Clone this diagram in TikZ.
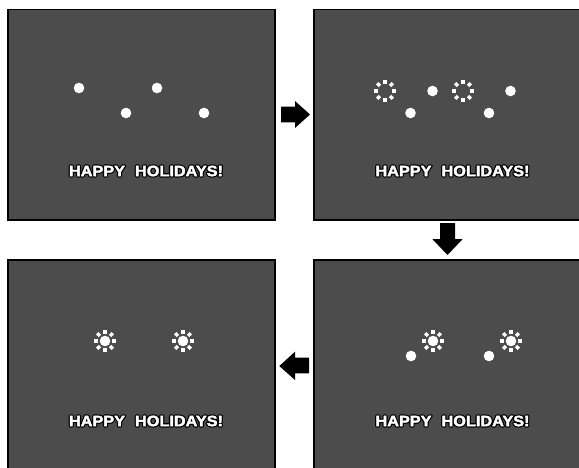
\documentclass[tikz,border=0pt]{standalone}
\usepackage{fontspec}
\setmainfont{Liberation Sans}
\usepackage{graphicx}
\definecolor{panelgray}{HTML}{4C4C4C}
\newcommand\greettext{\textbf{HAPPY\hspace{0.62em}HOLIDAYS!}}
\newcommand\outlinedtext{\resizebox{154pt}{10.5pt}{%
  \makebox[0pt][l]{\special{pdf:literal direct 0 0 0 RG 1.8 w 1 j 2 Tr}\textcolor{black}{\greettext}\special{pdf:literal direct 0 Tr}}%
  \special{pdf:literal direct 1 1 1 RG 0.25 w 1 j 2 Tr}\textcolor{white}{\greettext}\special{pdf:literal direct 0 Tr}}}
\tikzset{
  panel/.style={draw=black, line width=1.5pt, fill=panelgray},
  dot/.style={fill=white},
  blockarrow/.style={fill=black},
  greet/.style={inner sep=0pt, outer sep=0pt, text=white},
  sparkle/.pic={
    \foreach \a in {0,45,...,315}{\fill[white,rotate=\a] (7.1,-1.7) rectangle (11.1,1.7);}
  },
  sun/.pic={
    \pic {sparkle};
    \fill[white] (0,0) circle[radius=5.3];
  }
}
\begin{document}
\begin{tikzpicture}[x=1pt,y=-1pt]
\useasboundingbox (0,0) rectangle (579,467);
% panels
\draw[panel] (8,9.5) rectangle (275,220) coordinate (p1);
\draw[panel] (314,9.5) rectangle (583,220) coordinate (p2);
\draw[panel] (8,260) rectangle (275,471) coordinate (p3);
\draw[panel] (314,260) rectangle (583,471) coordinate (p4);
% panel 1
\fill[dot] (79,88) circle[radius=5.3];
\fill[dot] (126,113) circle[radius=5.3];
\fill[dot] (157,88) circle[radius=5.3];
\fill[dot] (204,113) circle[radius=5.3];
\node[greet] (t1) at (146,171) {\outlinedtext};
% panel 2
\pic at (385,91) {sparkle};
\pic at (463,91) {sparkle};
\fill[dot] (432.5,91) circle[radius=5.3];
\fill[dot] (410.5,113) circle[radius=5.3];
\fill[dot] (489,113) circle[radius=5.3];
\fill[dot] (510.5,91) circle[radius=5.3];
\node[greet] (t2) at (452.5,171) {\outlinedtext};
% panel 3
\pic at (105,341) {sun};
\pic at (183,341) {sun};
\node[greet] (t3) at (146,421) {\outlinedtext};
% panel 4
\pic at (433,341) {sun};
\pic at (511,341) {sun};
\fill[dot] (411,356) circle[radius=5.3];
\fill[dot] (489,356) circle[radius=5.3];
\node[greet] (t4) at (452.5,421) {\outlinedtext};
% arrows
\coordinate (a1) at (281,114.5);
\coordinate (a2) at (447.5,223);
\coordinate (a3) at (309,366);
\fill[blockarrow,shift={(a1)}] (0,-7.8) -- (14,-7.8) -- (14,-13.5) -- (29,0) -- (14,13.5) -- (14,7.8) -- (0,7.8) -- cycle;
\fill[blockarrow,shift={(a2)}] (-7.5,0) -- (7.5,0) -- (7.5,16) -- (15.2,16) -- (0,32) -- (-15.2,16) -- (-7.5,16) -- cycle;
\fill[blockarrow,shift={(a3)}] (0,-8.3) -- (-14,-8.3) -- (-14,-14.3) -- (-29.7,0) -- (-14,14) -- (-14,7.3) -- (0,7.3) -- cycle;
\end{tikzpicture}
\end{document}
